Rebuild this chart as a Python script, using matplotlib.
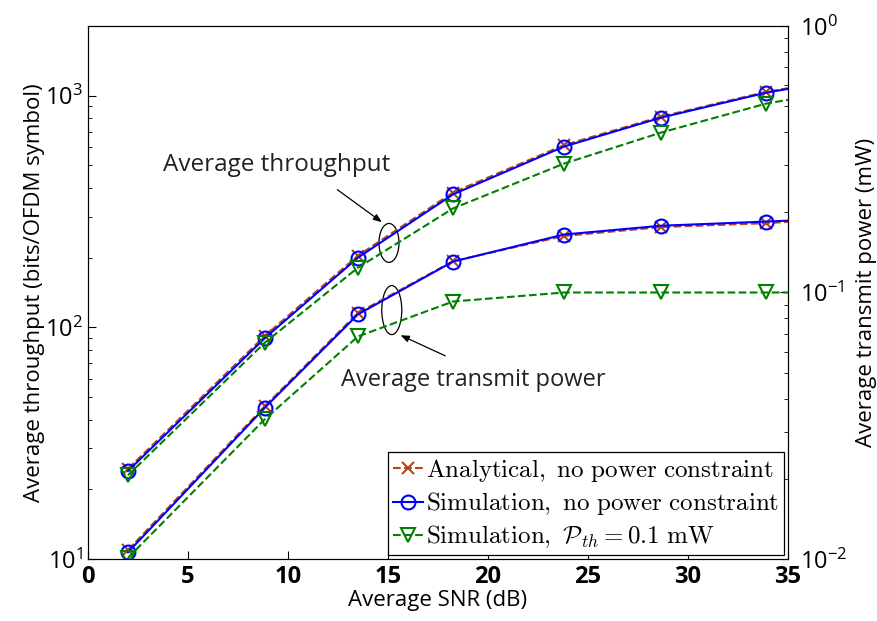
#!/usr/bin/env python3
"""
Average throughput / transmit power vs. SNR (two y axes)
"""

import matplotlib

matplotlib.use("Agg")
import matplotlib.pyplot as plt
from matplotlib.patches import Ellipse

plt.rcParams["font.family"] = ["Open Sans", "DejaVu Sans"]
plt.rcParams["mathtext.fontset"] = "cm"

# Data
snr_db = [2, 8.85, 13.5, 18.25, 23.8, 28.65, 33.9, 35]

thr_analytic = [24.5, 92, 204, 382, 612, 812, 1038, 1078]
thr_sim = [24, 90, 200, 375, 603, 804, 1030, 1070]
thr_pth = [23, 86, 181, 326, 509, 693, 924, 960]

pow_analytic = [0.0108, 0.0375, 0.0838, 0.131, 0.163, 0.176, 0.182, 0.184]
pow_sim = [0.0106, 0.037, 0.0828, 0.1306, 0.165, 0.178, 0.1845, 0.186]
pow_pth = [0.0101, 0.0335, 0.0684, 0.0925, 0.1, 0.1, 0.1, 0.1]

labels = [
    r"$\mathrm{Analytical,\ no\ power\ constraint}$",
    r"$\mathrm{Simulation,\ no\ power\ constraint}$",
    r"$\mathrm{Simulation,}\ \mathcal{P}_{th}=0.1\ \mathrm{mW}$",
]

brown = "#b5451b"
blue = "#0000ff"
green = "#008000"
marks = list(range(7))

fig = plt.figure(figsize=(8.77, 6.21), dpi=100)
ax = fig.add_axes([0.1003, 0.0998, 0.7982, 0.8584])
ax2 = ax.twinx()

# throughput (left axis)
ax.plot(snr_db, thr_analytic, "--", color=brown, lw=1.5, marker="x",
        ms=8, mew=1.5, markevery=marks)
ax.plot(snr_db, thr_sim, "-", color=blue, lw=1.5, marker="o", ms=10,
        mfc="none", mew=1.5, markevery=marks)
ax.plot(snr_db, thr_pth, "--", color=green, lw=1.5, marker="v", ms=10,
        mfc="none", mew=1.5, markevery=marks)

# transmit power (right axis)
h1, = ax2.plot(snr_db, pow_analytic, "--", color=brown, lw=1.5, marker="x",
               ms=8, mew=1.5, markevery=marks)
h2, = ax2.plot(snr_db, pow_sim, "-", color=blue, lw=1.5, marker="o", ms=10,
               mfc="none", mew=1.5, markevery=marks)
h3, = ax2.plot(snr_db, pow_pth, "--", color=green, lw=1.5, marker="v", ms=10,
               mfc="none", mew=1.5, markevery=marks)

ax.set_yscale("log")
ax2.set_yscale("log")
ax.set_xlim(0, 35)
ax.set_ylim(10, 2000)
ax2.set_ylim(0.01, 1)
ax.set_xticks(range(0, 36, 5))

ax.tick_params(axis="x", which="both", direction="in", labelsize=17, pad=4)
ax.tick_params(axis="y", which="both", direction="in", labelsize=17, right=False)
ax2.tick_params(axis="y", which="both", direction="in", labelsize=17,
                left=False, pad=9)
ax.tick_params(which="major", length=6)
ax.tick_params(which="minor", length=3)
ax2.tick_params(which="major", length=6)
ax2.tick_params(which="minor", length=3)
for tl in ax.get_xticklabels():
    tl.set_fontweight("bold")

ax.set_xlabel("Average SNR (dB)", fontsize=16, labelpad=1)
ax.set_ylabel("Average throughput (bits/OFDM symbol)", fontsize=16, labelpad=0)
ax2.set_ylabel("Average transmit power (mW)", fontsize=16, labelpad=6)

# annotations
ax.add_patch(Ellipse((0.43, 0.593), 0.0286, 0.073, transform=ax.transAxes,
                     fill=False, ec="black", lw=0.9))
ax.add_patch(Ellipse((0.434, 0.467), 0.0286, 0.092, transform=ax.transAxes,
                     fill=False, ec="black", lw=0.9))
ax.annotate("", xy=(0.423, 0.629), xytext=(0.353, 0.696),
            xycoords="axes fraction", textcoords="axes fraction",
            arrowprops=dict(arrowstyle="-|>,head_length=0.5,head_width=0.2",
                            color="black", lw=0.9))
ax.annotate("", xy=(0.443, 0.422), xytext=(0.514, 0.379),
            xycoords="axes fraction", textcoords="axes fraction",
            arrowprops=dict(arrowstyle="-|>,head_length=0.5,head_width=0.2",
                            color="black", lw=0.9))
ax.text(0.27, 0.739, "Average throughput", transform=ax.transAxes,
        ha="center", va="center", fontsize=17.5, color="#222222")
ax.text(0.55, 0.336, "Average transmit power", transform=ax.transAxes,
        ha="center", va="center", fontsize=17, color="#222222")

leg = ax2.legend([h1, h2, h3], labels, loc="lower right", fontsize=18,
                 handlelength=1.2, handletextpad=0.1, borderpad=0.2,
                 labelspacing=0.25, borderaxespad=0.15, fancybox=False,
                 framealpha=1)
leg.get_frame().set_edgecolor("black")
leg.get_frame().set_linewidth(0.9)

fig.savefig("out.png", dpi=100, facecolor="white")
